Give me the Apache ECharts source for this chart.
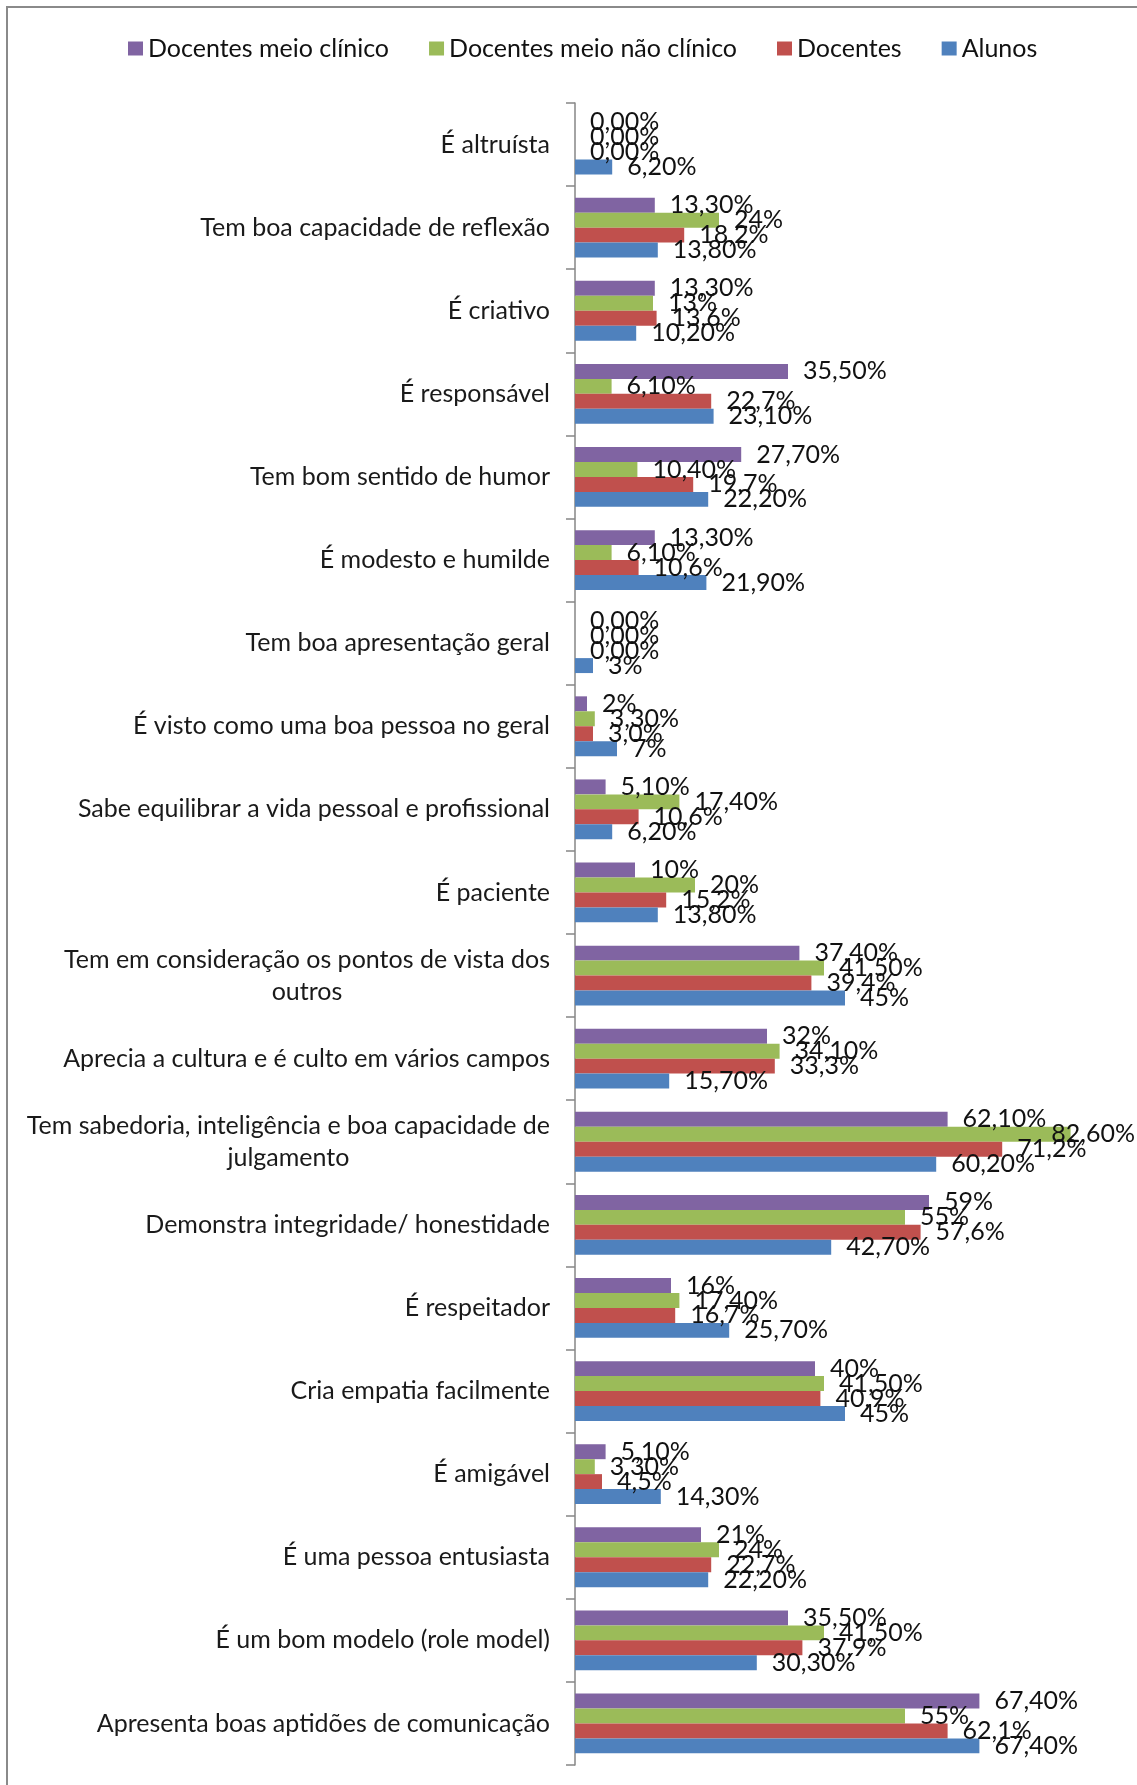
<!DOCTYPE html>
<html>
<head>
<meta charset="utf-8">
<script src="https://cdn.jsdelivr.net/npm/echarts@6/dist/echarts.min.js"></script>
<style>
html,body{margin:0;padding:0;background:#fff;}
#chart{width:1137px;height:1785px;}
</style>
</head>
<body>
<div id="chart"></div>
<script>
const categories = [
  "É altruísta",
  "Tem boa capacidade de reflexão",
  "É criativo",
  "É responsável",
  "Tem bom sentido de humor",
  "É modesto e humilde",
  "Tem boa apresentação geral",
  "É visto como uma boa pessoa no geral",
  "Sabe equilibrar a vida pessoal e profissional",
  "É paciente",
  "Tem em consideração os pontos de vista dos\noutros",
  "Aprecia a cultura e é culto em vários campos",
  "Tem sabedoria, inteligência e boa capacidade de\njulgamento",
  "Demonstra integridade/ honestidade",
  "É respeitador",
  "Cria empatia facilmente",
  "É amigável",
  "É uma pessoa entusiasta",
  "É um bom modelo (role model)",
  "Apresenta boas aptidões de comunicação"
];

const seriesNames = ["Docentes meio clínico", "Docentes meio não clínico", "Docentes", "Alunos"];

const clinicos = [0, 13.3, 13.3, 35.5, 27.7, 13.3, 0, 2, 5.1, 10, 37.4, 32, 62.1, 59, 16, 40, 5.1, 21, 35.5, 67.4];
const naoClinicos = [0, 24, 13, 6.1, 10.4, 6.1, 0, 3.3, 17.4, 20, 41.5, 34.1, 82.6, 55, 17.4, 41.5, 3.3, 24, 41.5, 55];
const docentes = [0, 18.2, 13.6, 22.7, 19.7, 10.6, 0, 3.0, 10.6, 15.2, 39.4, 33.3, 71.2, 57.6, 16.7, 40.9, 4.5, 22.7, 37.9, 62.1];
const alunos = [6.2, 13.8, 10.2, 23.1, 22.2, 21.9, 3, 7, 6.2, 13.8, 45, 15.7, 60.2, 42.7, 25.7, 45, 14.3, 22.2, 30.3, 67.4];

const labelsClinicos = ["0,00%","13,30%","13,30%","35,50%","27,70%","13,30%","0,00%","2%","5,10%","10%","37,40%","32%","62,10%","59%","16%","40%","5,10%","21%","35,50%","67,40%"];
const labelsNaoClinicos = ["0,00%","24%","13%","6,10%","10,40%","6,10%","0,00%","3,30%","17,40%","20%","41,50%","34,10%","82,60%","55%","17,40%","41,50%","3,30%","24%","41,50%","55%"];
const labelsDocentes = ["0,00%","18,2%","13,6%","22,7%","19,7%","10,6%","0,00%","3,0%","10,6%","15,2%","39,4%","33,3%","71,2%","57,6%","16,7%","40,9%","4,5%","22,7%","37,9%","62,1%"];
const labelsAlunos = ["6,20%","13,80%","10,20%","23,10%","22,20%","21,90%","3%","7%","6,20%","13,80%","45%","15,70%","60,20%","42,70%","25,70%","45%","14,30%","22,20%","30,30%","67,40%"];

const colors = ["#8064A2", "#9BBB59", "#C0504D", "#4F81BD"];
const FONT = "Lato, 'Open Sans', sans-serif";
const FS = 25;
const RIGHT_LIMIT = 1135;

function keepInside(params) {
  const r = params.labelRect;
  if (r.x + r.width > RIGHT_LIMIT) {
    return { dx: RIGHT_LIMIT - (r.x + r.width) };
  }
  return {};
}

function mkSeries(name, data, labels, color) {
  return {
    name: name,
    type: 'bar',
    data: data,
    itemStyle: { color: color },
    barGap: '0%',
    barCategoryGap: '28%',
    label: {
      show: true,
      position: 'right',
      distance: 15,
      color: '#111',
      fontFamily: FONT,
      fontSize: FS,
      formatter: function (p) { return labels[p.dataIndex]; }
    },
    labelLayout: keepInside,
    emphasis: { disabled: true }
  };
}

const chart = echarts.init(document.getElementById('chart'), null, { renderer: 'canvas' });
chart.setOption({
  animation: false,
  backgroundColor: '#fff',
  graphic: [{
    type: 'rect',
    shape: { x: 7, y: 7, width: 1400, height: 2000 },
    style: { fill: 'none', stroke: '#8a8a8a', lineWidth: 2 },
    silent: true
  }],
  legend: {
    left: 128,
    top: 36,
    padding: 0,
    itemWidth: 15,
    itemHeight: 14,
    itemGap: 40,
    icon: 'rect',
    textStyle: { fontFamily: FONT, fontSize: FS, color: '#111' },
    data: seriesNames
  },
  grid: { left: 575, right: 22, top: 103, bottom: 20, containLabel: false },
  xAxis: {
    type: 'value',
    min: 0,
    max: 90,
    show: false
  },
  yAxis: {
    type: 'category',
    data: categories,
    inverse: true,
    axisLine: { show: true, lineStyle: { color: '#868686', width: 1.5 } },
    axisTick: { show: true, length: 9, lineStyle: { color: '#868686', width: 1.5 } },
    axisLabel: {
      margin: 25,
      fontFamily: FONT,
      fontSize: FS,
      color: '#1a1a1a',
      lineHeight: 32,
      formatter: function (v) {
        if (v.indexOf('\n') >= 0) {
          return v.split('\n').map(function (l) { return '{c|' + l + '}'; }).join('\n');
        }
        return v;
      },
      rich: {
        c: { align: 'center', fontFamily: FONT, fontSize: FS, color: '#1a1a1a', lineHeight: 32 }
      }
    },
    splitLine: { show: false }
  },
  series: [
    mkSeries(seriesNames[0], clinicos, labelsClinicos, colors[0]),
    mkSeries(seriesNames[1], naoClinicos, labelsNaoClinicos, colors[1]),
    mkSeries(seriesNames[2], docentes, labelsDocentes, colors[2]),
    mkSeries(seriesNames[3], alunos, labelsAlunos, colors[3])
  ]
});
</script>
</body>
</html>
